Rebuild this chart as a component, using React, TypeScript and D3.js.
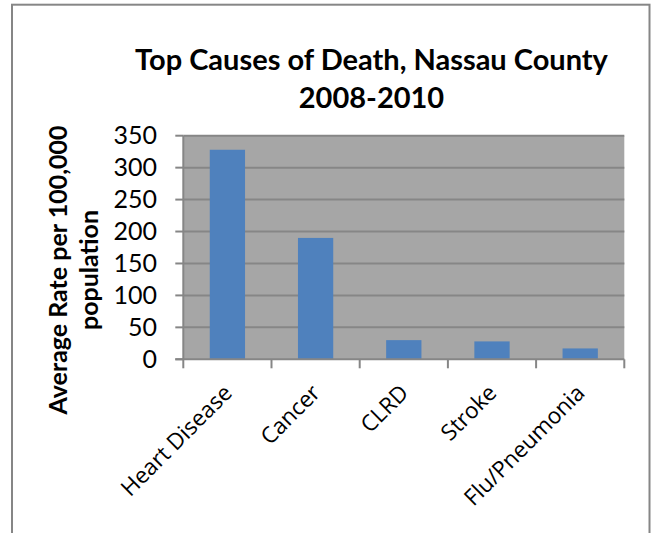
import React from "react";
import * as d3 from "d3";

const categories = ["Heart Disease", "Cancer", "CLRD", "Stroke", "Flu/Pneumonia"];
const rates = [328, 190, 30, 28, 17];
const yTicks = [0, 50, 100, 150, 200, 250, 300, 350];
const titleLines = ["Top Causes of Death, Nassau County", "2008-2010"];
const yTitleLines = ["Average Rate per 100,000", "population"];

const W = 654;
const H = 533;
const plot = { left: 183.3, right: 624.3, top: 135.7, bottom: 359.3 };
const calibri = "Lato, 'Noto Sans', sans-serif";
const xFont = "'Open Sans', sans-serif";

export default function App() {
  const x = d3
    .scaleBand<string>()
    .domain(categories)
    .range([plot.left, plot.right])
    .paddingInner(0.6)
    .paddingOuter(0.3);
  const y = d3.scaleLinear().domain([0, 350]).range([plot.bottom, plot.top]);
  const step = x.step();
  const boundaries = d3.range(categories.length + 1).map((i) => plot.left + i * step);
  const yTitleCenter = 270;

  return (
    <svg
      width={W}
      height={H}
      style={{ position: "absolute", left: 0, top: 0, background: "#fff" }}
    >
      <rect x={0} y={0} width={W} height={H} fill="#fff" />
      <rect x={12} y={4.7} width={637.5} height={560} fill="#fff" stroke="#868686" strokeWidth={2} />

      {titleLines.map((t, i) => (
        <text
          key={t}
          x={371.5}
          y={69.8 + i * 38}
          textAnchor="middle"
          fontFamily={calibri}
          fontWeight="bold"
          fontSize={29}
          fill="#000"
        >
          {t}
        </text>
      ))}

      <rect
        x={plot.left}
        y={plot.top}
        width={plot.right - plot.left}
        height={plot.bottom - plot.top}
        fill="#A6A6A6"
      />
      {yTicks.slice(1).map((v) => (
        <line
          key={"g" + v}
          x1={plot.left}
          x2={plot.right}
          y1={y(v)}
          y2={y(v)}
          stroke="#868686"
          strokeWidth={2}
        />
      ))}

      {categories.map((c, i) => (
        <rect
          key={c}
          x={x(c)}
          y={y(rates[i])}
          width={x.bandwidth()}
          height={y(0) - y(rates[i])}
          fill="#4F81BD"
        />
      ))}

      {/* y axis */}
      <line x1={plot.left} x2={plot.left} y1={plot.top} y2={plot.bottom} stroke="#868686" strokeWidth={2} />
      {yTicks.map((v) => (
        <g key={"t" + v}>
          <line x1={plot.left - 8} x2={plot.left} y1={y(v)} y2={y(v)} stroke="#868686" strokeWidth={2} />
          <text
            x={157}
            y={y(v)}
            dy="0.35em"
            textAnchor="end"
            fontFamily={calibri}
            fontSize={25}
            fill="#000"
          >
            {v}
          </text>
        </g>
      ))}

      {/* x axis */}
      <line x1={plot.left - 8} x2={plot.right} y1={plot.bottom} y2={plot.bottom} stroke="#868686" strokeWidth={2} />
      {boundaries.map((bx, i) => (
        <line key={"xt" + i} x1={bx} x2={bx} y1={plot.bottom} y2={plot.bottom + 9} stroke="#868686" strokeWidth={2} />
      ))}
      {categories.map((c) => {
        const cx = (x(c) as number) + x.bandwidth() / 2;
        return (
          <text
            key={"l" + c}
            transform={`translate(${cx + 6},${plot.bottom + 35}) rotate(-45)`}
            textAnchor="end"
            fontFamily={xFont}
            fontSize={22.5}
            fill="#000"
          >
            {c}
          </text>
        );
      })}

      {/* y title */}
      {yTitleLines.map((t, i) => (
        <text
          key={t}
          transform={`translate(${67.3 + i * 31},${yTitleCenter}) rotate(-90)`}
          textAnchor="middle"
          fontFamily={calibri}
          fontWeight="bold"
          fontSize={25}
          fill="#000"
        >
          {t}
        </text>
      ))}
    </svg>
  );
}
